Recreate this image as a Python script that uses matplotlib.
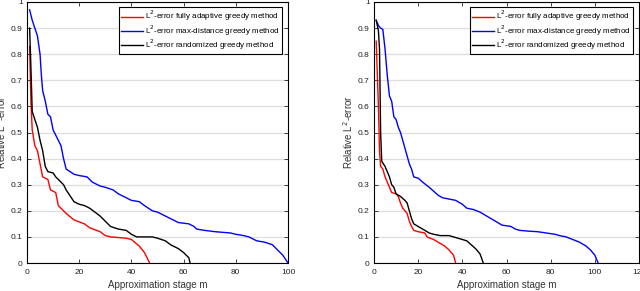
import matplotlib.pyplot as plt
import numpy as np

plt.rcParams['font.family'] = ['Liberation Sans', 'DejaVu Sans']

LABELS = ["L$^2$-error fully adaptive greedy method",
          "L$^2$-error max-distance greedy method",
          "L$^2$-error randomized greedy method"]
COLORS = ['red', 'blue', 'black']

# left panel
red1_x = [1, 1.5, 2, 3, 4, 5, 6, 8, 9, 11, 12, 15, 18, 22, 24, 28, 30, 32, 38, 40, 43, 45, 46, 47]
red1_y = [0.83, 0.62, 0.51, 0.45, 0.43, 0.38, 0.33, 0.32, 0.28, 0.27, 0.22, 0.19, 0.165, 0.15, 0.135,
          0.12, 0.105, 0.10, 0.095, 0.09, 0.065, 0.04, 0.02, 0.0]
blue1_x = [1, 2, 3, 4, 5, 5.5, 6, 7, 8, 9, 10, 12, 13, 14, 15, 18, 20, 23, 25, 28, 30, 33, 35, 38, 40,
           43, 45, 48, 50, 53, 55, 58, 62, 64, 65, 68, 72, 78, 80, 83, 85, 88, 91, 94, 96, 98, 100]
blue1_y = [0.97, 0.93, 0.90, 0.87, 0.80, 0.72, 0.66, 0.62, 0.57, 0.56, 0.51, 0.47, 0.45, 0.40, 0.36,
           0.34, 0.335, 0.33, 0.31, 0.295, 0.29, 0.28, 0.265, 0.25, 0.24, 0.235, 0.22, 0.20, 0.195,
           0.18, 0.17, 0.155, 0.15, 0.14, 0.13, 0.125, 0.12, 0.115, 0.11, 0.105, 0.10, 0.085, 0.08,
           0.07, 0.05, 0.03, 0.0]
black1_x = [1, 1.5, 2, 3, 4, 5, 6, 7, 8, 10, 11, 12, 14, 15, 17, 18, 20, 22, 24, 26, 28, 30, 32, 35,
            38, 40, 42, 48, 50, 53, 55, 58, 60, 62, 62.5]
black1_y = [0.90, 0.75, 0.58, 0.55, 0.52, 0.47, 0.43, 0.37, 0.35, 0.345, 0.33, 0.32, 0.30, 0.28, 0.25,
            0.235, 0.225, 0.22, 0.21, 0.195, 0.18, 0.16, 0.14, 0.13, 0.125, 0.11, 0.10, 0.10, 0.095,
            0.085, 0.07, 0.055, 0.04, 0.02, 0.0]

# right panel
red2_x = [1, 2, 2.5, 3, 4, 5, 6, 7, 8, 10, 11, 12, 13, 14, 15, 16, 17, 18, 20, 23, 24, 27, 30, 32,
          34, 36, 37]
red2_y = [0.85, 0.60, 0.43, 0.37, 0.36, 0.33, 0.31, 0.29, 0.27, 0.265, 0.255, 0.23, 0.21, 0.20, 0.19,
          0.16, 0.14, 0.125, 0.12, 0.115, 0.10, 0.09, 0.075, 0.065, 0.05, 0.03, 0.0]
blue2_x = [1, 2, 3, 4, 5, 6, 7, 8, 9, 10, 11, 12, 13, 14, 15, 16, 17, 18, 20, 22, 25, 27, 29, 31, 34,
           37, 40, 42, 45, 48, 50, 53, 56, 58, 62, 64, 66, 70, 74, 78, 82, 84, 87, 90, 93, 96, 98,
           100, 101, 101.5]
blue2_y = [0.93, 0.91, 0.90, 0.895, 0.82, 0.72, 0.64, 0.62, 0.56, 0.55, 0.52, 0.50, 0.47, 0.44, 0.41,
           0.38, 0.36, 0.33, 0.325, 0.31, 0.29, 0.275, 0.26, 0.25, 0.245, 0.24, 0.225, 0.21, 0.205,
           0.195, 0.185, 0.17, 0.155, 0.145, 0.14, 0.13, 0.125, 0.122, 0.12, 0.115, 0.11, 0.105,
           0.10, 0.09, 0.08, 0.065, 0.05, 0.03, 0.01, 0.0]
black2_x = [1, 2, 2.5, 3, 3.5, 5, 6, 7, 8, 9, 10, 12, 14, 15, 16, 17, 18, 20, 23, 25, 27, 30, 34, 36,
            38, 40, 42, 44, 46, 48, 49.5]
black2_y = [0.93, 0.89, 0.82, 0.50, 0.39, 0.37, 0.35, 0.33, 0.30, 0.29, 0.265, 0.255, 0.24, 0.23, 0.20,
            0.17, 0.15, 0.14, 0.125, 0.115, 0.11, 0.105, 0.105, 0.10, 0.095, 0.09, 0.085, 0.07,
            0.055, 0.035, 0.0]

W, H = 640, 291
fig = plt.figure(figsize=(6.4, 2.91), dpi=100)
ax1 = fig.add_axes([27 / W, 28 / H, 261 / W, 261 / H])
ax2 = fig.add_axes([374 / W, 28 / H, 265 / W, 261 / H])

panels = [
    (ax1, [(red1_x, red1_y), (blue1_x, blue1_y), (black1_x, black1_y)], 100),
    (ax2, [(red2_x, red2_y), (blue2_x, blue2_y), (black2_x, black2_y)], 120),
]

for ax, series, xmax in panels:
    for (xs, ys), c, lab in zip(series, COLORS, LABELS):
        ax.plot(xs, ys, color=c, lw=1.0, label=lab)
    ax.set_xlim(0, xmax)
    ax.set_ylim(0, 1)
    ax.set_xticks(np.arange(0, xmax + 1, 20))
    ax.set_yticks(np.arange(0, 1.01, 0.1))
    ax.set_yticklabels(['0', '0.1', '0.2', '0.3', '0.4', '0.5', '0.6', '0.7', '0.8', '0.9', '1'])
    ax.yaxis.grid(True, color='#dddddd', lw=0.9)
    ax.set_axisbelow(True)
    ax.tick_params(direction='in', top=True, right=True, labelsize=6, length=3, width=0.6,
                   colors='#222222')
    ax.tick_params(axis='x', pad=4)
    ax.tick_params(axis='y', pad=3)
    for s in ax.spines.values():
        s.set_linewidth(0.8)
    ax.set_xlabel("Approximation stage m", fontsize=7, labelpad=3, color='#333333')
    ax.set_ylabel("Relative L$^2$-error", fontsize=7, labelpad=2, color='#333333')
    leg = ax.legend(loc='upper right', fontsize=5.8, frameon=True, fancybox=False,
                    edgecolor='black', framealpha=1, handlelength=2.7, handletextpad=0.2,
                    borderpad=0.25, labelspacing=0.0, borderaxespad=0.3,
                    bbox_to_anchor=(0.985, 0.99))
    leg.get_frame().set_linewidth(0.8)

fig.savefig("out.png", dpi=100)
